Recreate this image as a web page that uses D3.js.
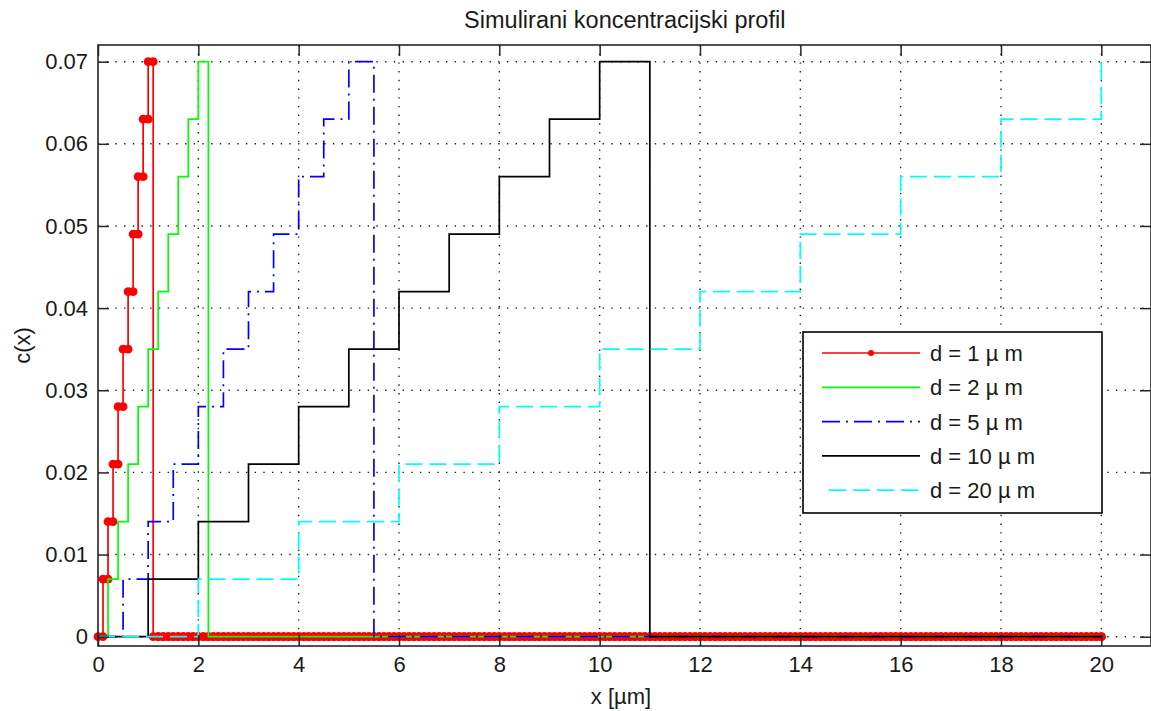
<!DOCTYPE html>
<html>
<head>
<meta charset="utf-8">
<script src="https://cdn.jsdelivr.net/npm/d3@7"></script>
<style>
  html, body { margin: 0; padding: 0; background: #ffffff; }
  svg { display: block; }
  text { font-family: "Liberation Sans", Arial, sans-serif; fill: #1a1a1a; }
</style>
</head>
<body>
<script>
// ---------------- data ----------------
const seriesLabels = ["d = 1 \u00b5 m", "d = 2 \u00b5 m", "d = 5 \u00b5 m", "d = 10 \u00b5 m", "d = 20 \u00b5 m"];
const stepWidths   = [0.1, 0.2, 0.5, 1, 2];              // x spacing of each profile [µm]
const profileLevels = [0, 0.007, 0.014, 0.021, 0.028, 0.035, 0.042, 0.049, 0.056, 0.063, 0.07];
const xEnd = 20;                                          // profiles continue at 0 up to x = 20
const xLimits = [0, 21];
const yLimits = [-0.00113, 0.07203];
const xTickValues = [0, 2, 4, 6, 8, 10, 12, 14, 16, 18, 20];
const xTickLabels = ["0", "2", "4", "6", "8", "10", "12", "14", "16", "18", "20"];
const yTickValues = [0, 0.01, 0.02, 0.03, 0.04, 0.05, 0.06, 0.07];
const yTickLabels = ["0", "0.01", "0.02", "0.03", "0.04", "0.05", "0.06", "0.07"];
const titleText = "Simulirani koncentracijski profil";
const xLabelText = "x [\u00b5m]";
const yLabelText = "c(x)";

// ---------------- styles ----------------
const styles = [
  { color: "#ff0000", dash: null,        marker: true },
  { color: "#00ff00", dash: null,        marker: false },
  { color: "#0000ff", dash: "18,6,2,6",  marker: false },
  { color: "#000000", dash: null,        marker: false },
  { color: "#00ffff", dash: "17,7",      marker: false }
];

const W = 1151, H = 711;
const L = 98, R = 1151.5, T = 45, B = 646;

const svg = d3.select("body").append("svg").attr("width", W).attr("height", H);
svg.append("rect").attr("width", W).attr("height", H).attr("fill", "#fff");

const x = d3.scaleLinear().domain(xLimits).range([L, R]);
const y = d3.scaleLinear().domain(yLimits).range([B, T]);

// ---------------- grid ----------------
const grid = svg.append("g").attr("stroke", "#222").attr("stroke-width", 1.4)
  .attr("stroke-dasharray", "1.4,7.3");
grid.selectAll("line.gx").data(xTickValues.filter(v => v > xLimits[0])).join("line")
  .attr("x1", d => x(d)).attr("x2", d => x(d)).attr("y1", T).attr("y2", B);
grid.selectAll("line.gy").data(yTickValues).join("line")
  .attr("y1", d => y(d)).attr("y2", d => y(d)).attr("x1", L).attr("x2", R);

// ---------------- series ----------------
function buildSeries(step) {
  const pts = [];
  for (let i = 0; ; i++) {
    const xv = Math.round(i * step * 1000) / 1000;
    if (xv > xEnd + 1e-9) break;
    pts.push({ x: xv, y: i < profileLevels.length ? profileLevels[i] : 0 });
  }
  return pts;
}
const series = stepWidths.map(buildSeries);

const line = d3.line().x(d => x(d.x)).y(d => y(d.y)).curve(d3.curveStepAfter);

series.forEach((pts, k) => {
  const st = styles[k];
  const g = svg.append("g");
  g.append("path").datum(pts)
    .attr("d", line)
    .attr("fill", "none")
    .attr("stroke", st.color)
    .attr("stroke-width", 1.7)
    .attr("stroke-dasharray", st.dash)
    .attr("stroke-linejoin", "miter");
  if (st.marker) {
    // markers on every vertex of the stair polyline
    const verts = [];
    pts.forEach((p, i) => {
      verts.push(p);
      if (i < pts.length - 1) verts.push({ x: pts[i + 1].x, y: p.y });
    });
    g.selectAll("circle").data(verts).join("circle")
      .attr("cx", d => x(d.x)).attr("cy", d => y(d.y)).attr("r", 4.4)
      .attr("fill", st.color);
  }
});

// ---------------- axes ----------------
const axisColor = "#262626";
const fmt = (vals, labs) => d => labs[vals.indexOf(d)];

const gx = svg.append("g").attr("transform", `translate(0,${B})`)
  .call(d3.axisBottom(x).tickValues(xTickValues).tickFormat(fmt(xTickValues, xTickLabels))
    .tickSizeInner(-11).tickSizeOuter(0).tickPadding(10));
const gxTop = svg.append("g").attr("transform", `translate(0,${T})`)
  .call(d3.axisTop(x).tickValues(xTickValues).tickFormat("")
    .tickSizeInner(-11).tickSizeOuter(0));
const gy = svg.append("g").attr("transform", `translate(${L},0)`)
  .call(d3.axisLeft(y).tickValues(yTickValues).tickFormat(fmt(yTickValues, yTickLabels))
    .tickSizeInner(-11).tickSizeOuter(0).tickPadding(10));
const gyRight = svg.append("g").attr("transform", `translate(${R - 0.5},0)`)
  .call(d3.axisRight(y).tickValues(yTickValues).tickFormat("")
    .tickSizeInner(-11).tickSizeOuter(0));

[gx, gxTop, gy, gyRight].forEach(g => {
  g.select(".domain").remove();
  g.selectAll(".tick line").attr("stroke", axisColor).attr("stroke-width", 1.5);
  g.selectAll(".tick text").attr("font-size", 22).attr("font-family", null).attr("fill", "#1a1a1a");
});

// box
svg.append("rect").attr("x", L).attr("y", T).attr("width", R - 0.5 - L).attr("height", B - T)
  .attr("fill", "none").attr("stroke", axisColor).attr("stroke-width", 1.6);

// ---------------- labels ----------------
svg.append("text").attr("x", (L + R) / 2).attr("y", 28).attr("text-anchor", "middle")
  .attr("font-size", 23.5).text(titleText);
svg.append("text").attr("x", 621).attr("y", 704).attr("text-anchor", "middle")
  .attr("font-size", 22).text(xLabelText);
svg.append("text").attr("transform", `translate(30,${(T + B) / 2}) rotate(-90)`)
  .attr("text-anchor", "middle").attr("font-size", 22).text(yLabelText);

// ---------------- legend ----------------
const lg = svg.append("g");
lg.append("rect").attr("x", 803).attr("y", 332).attr("width", 299).attr("height", 181)
  .attr("fill", "#fff").attr("stroke", "#000").attr("stroke-width", 1.6);
seriesLabels.forEach((lab, k) => {
  const st = styles[k];
  const cy = 353 + k * 34.3;
  lg.append("line").attr("x1", 822).attr("x2", 920).attr("y1", cy).attr("y2", cy)
    .attr("stroke", st.color).attr("stroke-width", 1.7)
    .attr("stroke-dasharray", st.dash)
    .attr("stroke-dashoffset", k === 4 ? -7 : 0);
  if (st.marker) {
    lg.append("circle").attr("cx", 871).attr("cy", cy).attr("r", 3).attr("fill", st.color);
  }
  lg.append("text").attr("x", 930).attr("y", cy).attr("dy", "0.36em")
    .attr("font-size", 22).text(lab);
});
</script>
</body>
</html>
